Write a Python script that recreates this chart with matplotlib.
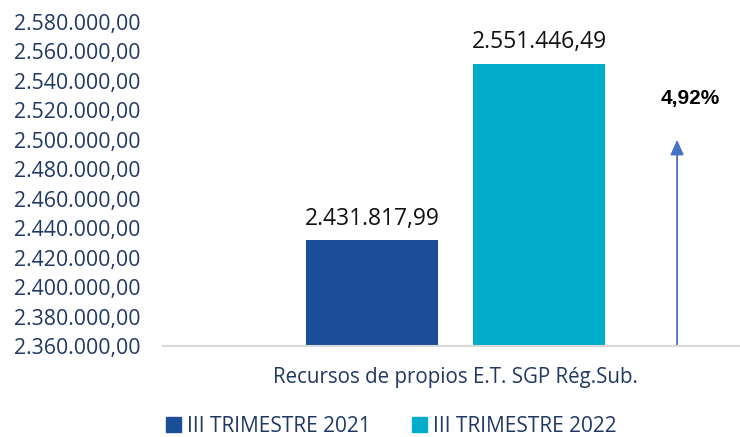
import numpy
from matplotlib import pyplot
from matplotlib.patches import Patch


# data
categories = ['Recursos de propios E.T. SGP Rég.Sub.']
series_labels = ['III TRIMESTRE 2021', 'III TRIMESTRE 2022']
values_2021 = [2431817.99]
values_2022 = [2551446.49]
value_labels_2021 = ['2.431.817,99']
value_labels_2022 = ['2.551.446,49']
growth_label = '4,92%'
growth_arrow_top = 2500000
growth_text_y = 2528000
y_ticks = [2360000 + 20000*i for i in range(12)]


def fmt_es(v):
  """Formats a number with dots for thousands and comma for decimals."""
  s = '{:,.2f}'.format(v)
  return s.replace(',', 'X').replace('.', ',').replace('X', '.')


color_2021 = '#1A4F97'
color_2022 = '#02ADCA'
text_color = '#203864'

pyplot.rcParams['font.family'] = ['Open Sans', 'DejaVu Sans']

fig = pyplot.figure(figsize=(7.4, 4.37), dpi=100)
ax = fig.add_axes([0.220, 0.2082, 0.780, 0.7415])

x = numpy.arange(len(categories), dtype=float)
offset = 0.1447
width = 0.229
ax.bar(x - offset, values_2021, width, color=color_2021, zorder=3)
ax.bar(x + offset, values_2022, width, color=color_2022, zorder=3)

for xi, v, lab in zip(x, values_2021, value_labels_2021):
  ax.annotate(lab, (xi - offset, v), xytext=(0, 7), textcoords='offset points',
              ha='center', va='bottom', fontsize=16.5, color='#111111')
for xi, v, lab in zip(x, values_2022, value_labels_2022):
  ax.annotate(lab, (xi + offset, v), xytext=(0, 7), textcoords='offset points',
              ha='center', va='bottom', fontsize=16.5, color='#111111')

# growth arrow
arrow_x = x[0] + 0.384
ax.annotate('', xy=(arrow_x, growth_arrow_top), xytext=(arrow_x, y_ticks[0]),
            arrowprops=dict(arrowstyle='-|>,head_length=0.9,head_width=0.4',
                            color='#4472C4', lw=1.3, shrinkA=0, shrinkB=0),
            zorder=4)
ax.text(x[0] + 0.407, growth_text_y, growth_label, ha='center', va='center',
        fontsize=15, fontweight='bold', family=['Liberation Sans'],
        color='black')

ax.set_xlim(-0.507, 0.493)
ax.set_ylim(y_ticks[0], y_ticks[-1])
ax.set_yticks(y_ticks)
ax.set_yticklabels([fmt_es(t) for t in y_ticks])
ax.set_xticks(x)
ax.set_xticklabels(categories)
ax.tick_params(axis='y', length=0, pad=16, labelsize=15.3, labelcolor=text_color)
ax.tick_params(axis='x', length=0, pad=15, labelsize=14.8, labelcolor=text_color)
for side in ['top', 'right', 'left']:
  ax.spines[side].set_visible(False)
ax.spines['bottom'].set_color('#D9D9D9')
ax.spines['bottom'].set_linewidth(1.5)
ax.spines['bottom'].set_zorder(5)

handles = [Patch(color=color_2021, label=series_labels[0]),
           Patch(color=color_2022, label=series_labels[1])]
leg = fig.legend(handles=handles, loc='lower center', ncol=2,
                 bbox_to_anchor=(0.529, -0.042), frameon=False,
                 fontsize=15, handlelength=0.7, handleheight=0.7,
                 handletextpad=0.3, columnspacing=2.0)
for t in leg.get_texts():
  t.set_color(text_color)

fig.savefig('out.png', dpi=100)
